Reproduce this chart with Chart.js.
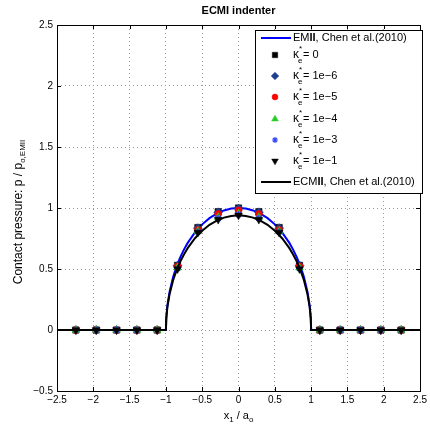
<!DOCTYPE html>
<html>
<head>
<meta charset="utf-8">
<script src="https://cdn.jsdelivr.net/npm/chart.js@4.4.1/dist/chart.umd.min.js"></script>
<style>
  html, body { margin: 0; padding: 0; background: #fff; }
  #wrap { width: 430px; height: 428px; }
</style>
</head>
<body>
<div id="wrap"><canvas id="contact-chart" width="430" height="428"></canvas></div>
<script>
// analytical curves
var curveX = [-2.5, -1, -0.995, -0.98, -0.95, -0.9, -0.85, -0.8, -0.75, -0.7, -0.6, -0.5, -0.4, -0.3, -0.2, -0.1, 0,
              0.1, 0.2, 0.3, 0.4, 0.5, 0.6, 0.7, 0.75, 0.8, 0.85, 0.9, 0.95, 0.98, 0.995, 1, 2.5];
var emiiY  = [0, 0, 0.100, 0.199, 0.312, 0.436, 0.527, 0.600, 0.661, 0.714, 0.800, 0.866, 0.917, 0.954, 0.980, 0.995, 1.000,
              0.995, 0.980, 0.954, 0.917, 0.866, 0.800, 0.714, 0.661, 0.600, 0.527, 0.436, 0.312, 0.199, 0.100, 0, 0];
var ecmiiY = [0, 0, 0.094, 0.187, 0.293, 0.410, 0.495, 0.564, 0.621, 0.671, 0.752, 0.814, 0.862, 0.897, 0.921, 0.935, 0.940,
              0.935, 0.921, 0.897, 0.862, 0.814, 0.752, 0.671, 0.621, 0.564, 0.495, 0.410, 0.293, 0.187, 0.094, 0, 0];

// simulation points
var pointX = [-2.24, -1.96, -1.68, -1.40, -1.12, -0.84, -0.56, -0.28, 0, 0.28, 0.56, 0.84, 1.12, 1.40, 1.68, 1.96, 2.24];
var kappa0   = [0, 0, 0, 0, 0, 0.530, 0.840, 0.970, 1.000, 0.970, 0.840, 0.530, 0, 0, 0, 0, 0];
var kappa1e6 = [0, 0, 0, 0, 0, 0.528, 0.835, 0.965, 0.995, 0.965, 0.835, 0.528, 0, 0, 0, 0, 0];
var kappa1e5 = [0, 0, 0, 0, 0, 0.520, 0.820, 0.950, 0.980, 0.950, 0.820, 0.520, 0, 0, 0, 0, 0];
var kappa1e4 = [0, 0, 0, 0, 0, 0.510, 0.810, 0.925, 0.955, 0.925, 0.810, 0.510, 0, 0, 0, 0, 0];
var kappa1e3 = [0, 0, 0, 0, 0, 0.505, 0.805, 0.915, 0.945, 0.915, 0.805, 0.505, 0, 0, 0, 0, 0];
var kappa1e1 = [0, 0, 0, 0, 0, 0.500, 0.800, 0.905, 0.940, 0.905, 0.800, 0.500, 0, 0, 0, 0, 0];
var kappaLabels = ['0', '1e\u22126', '1e\u22125', '1e\u22124', '1e\u22123', '1e\u22121'];

var FONT = '"Liberation Sans", Arial, Helvetica, sans-serif';

function toXY(xs, ys) {
	var out = [];
	for (var i = 0; i < xs.length; i++) out.push({x: xs[i], y: ys[i]});
	return out;
}

function markerSet(label, values, style, color, radius, rotation, order) {
	return {
		label: label,
		data: toXY(pointX, values),
		showLine: false,
		pointStyle: style,
		pointRadius: radius,
		pointRotation: rotation,
		pointBackgroundColor: color,
		pointBorderColor: color,
		pointBorderWidth: style == 'star' ? 1.2 : 0.5,
		order: order
	};
}

function fmtTick(v) {
	var s = String(Math.round(v * 10) / 10);
	return s.replace('-', '\u2212');
}

// draws title, axis titles, frame, inward ticks and the legend box
var decorations = {
	id: 'decorations',
	afterDraw: function(chart) {
		var ctx = chart.ctx;
		var a = chart.chartArea;
		var xs = chart.scales.x, ys = chart.scales.y;
		ctx.save();

		// frame
		ctx.strokeStyle = '#000';
		ctx.lineWidth = 1;
		ctx.strokeRect(Math.round(a.left) + 0.5, Math.round(a.top) + 0.5, Math.round(a.right - a.left), Math.round(a.bottom - a.top));

		// inward ticks
		ctx.beginPath();
		xs.ticks.forEach(function(t) {
			var px = Math.round(xs.getPixelForValue(t.value)) + 0.5;
			ctx.moveTo(px, a.bottom); ctx.lineTo(px, a.bottom - 4);
			ctx.moveTo(px, a.top); ctx.lineTo(px, a.top + 4);
		});
		ys.ticks.forEach(function(t) {
			var py = Math.round(ys.getPixelForValue(t.value)) + 0.5;
			ctx.moveTo(a.left, py); ctx.lineTo(a.left + 4, py);
			ctx.moveTo(a.right, py); ctx.lineTo(a.right - 4, py);
		});
		ctx.stroke();

		ctx.fillStyle = '#000';
		// title
		ctx.font = 'bold 11px ' + FONT;
		ctx.textAlign = 'center';
		ctx.textBaseline = 'middle';
		ctx.fillText('ECMI indenter', (a.left + a.right) / 2, 11);

		// x title: x1 / ao
		ctx.textAlign = 'left';
		ctx.textBaseline = 'alphabetic';
		var cx = (a.left + a.right) / 2, by = 419;
		ctx.font = '11px ' + FONT;
		var w1 = ctx.measureText('x').width, w3 = ctx.measureText(' / a').width;
		ctx.font = '8px ' + FONT;
		var w2 = ctx.measureText('1').width, w4 = ctx.measureText('o').width;
		var sx = cx - (w1 + w2 + w3 + w4) / 2;
		ctx.font = '11px ' + FONT;
		ctx.fillText('x', sx, by);
		ctx.font = '8px ' + FONT;
		ctx.fillText('1', sx + w1, by + 3);
		ctx.font = '11px ' + FONT;
		ctx.fillText(' / a', sx + w1 + w2, by);
		ctx.font = '8px ' + FONT;
		ctx.fillText('o', sx + w1 + w2 + w3, by + 3);

		// y title
		ctx.save();
		ctx.translate(22, 212);
		ctx.rotate(-Math.PI / 2);
		ctx.font = '12px ' + FONT;
		var m1 = ctx.measureText('Contact pressure: p / p').width;
		ctx.font = '8px ' + FONT;
		var m2 = ctx.measureText('o,EMII').width;
		var sy = -(m1 + m2) / 2;
		ctx.font = '12px ' + FONT;
		ctx.fillText('Contact pressure: p / p', sy, 0);
		ctx.font = '8px ' + FONT;
		ctx.fillText('o,EMII', sy + m1, 3);
		ctx.restore();

		// legend
		var lx = 255, ly = 30, lw = 167, lh = 163;
		ctx.fillStyle = '#fff';
		ctx.fillRect(lx, ly, lw, lh);
		ctx.strokeStyle = '#000';
		ctx.lineWidth = 1;
		ctx.strokeRect(lx + 0.5, ly + 0.5, lw, lh);

		var rows = [38, 55, 76, 97, 119, 140, 161, 182];
		var order = [0, 1, 2, 3, 4, 5, 6, 7];
		var ds = chart.data.datasets;
		order.forEach(function(di, r) {
			var d = ds[di];
			var y = rows[r];
			var tx = 293;
			if (d.showLine !== false) {
				ctx.strokeStyle = d.borderColor;
				ctx.lineWidth = 2;
				ctx.beginPath();
				ctx.moveTo(261, y); ctx.lineTo(291, y);
				ctx.stroke();
				ctx.fillStyle = '#000';
				ctx.textBaseline = 'middle';
				var name = d.label;
				ctx.font = '11px ' + FONT;
				var pre = name.slice(0, name.indexOf('II'));
				ctx.fillText(pre, tx, y);
				var wpre = ctx.measureText(pre).width;
				ctx.font = 'bold 11px ' + FONT;
				ctx.fillText('II', tx + wpre, y);
				var wii = ctx.measureText('II').width;
				ctx.font = '11px ' + FONT;
				ctx.fillText(name.slice(name.indexOf('II') + 2), tx + wpre + wii, y);
			} else {
				ctx.fillStyle = d.pointBackgroundColor;
				ctx.strokeStyle = d.pointBorderColor;
				ctx.lineWidth = d.pointBorderWidth;
				Chart.helpers.drawPoint(ctx, {
					pointStyle: d.pointStyle,
					radius: d.pointRadius * 0.85,
					rotation: d.pointRotation,
					borderWidth: d.pointBorderWidth
				}, 275, y);
				ctx.fillStyle = '#000';
				ctx.textBaseline = 'middle';
				ctx.font = '12px ' + FONT;
				ctx.fillText('\u03ba', tx, y);
				var wk = ctx.measureText('\u03ba').width;
				ctx.font = '8px ' + FONT;
				ctx.fillText('*', tx + wk, y - 6);
				ctx.fillText('e', tx + wk - 1, y + 6);
				ctx.font = '11px ' + FONT;
				ctx.fillText('= ' + kappaLabels[di - 1], tx + wk + 4, y);
			}
		});
		ctx.restore();
	}
};

var ctx = document.getElementById('contact-chart').getContext('2d');

var chart = new Chart(ctx, {
	type: 'scatter',
	data: {
		datasets: [
			{
				label: 'EMII, Chen et al.(2010)',
				data: toXY(curveX, emiiY),
				showLine: true,
				borderColor: '#0000ff',
				borderWidth: 2,
				pointRadius: 0,
				tension: 0,
				order: 9
			},
			markerSet('k0', kappa0, 'rect', '#000000', 4.5, 0, 8),
			markerSet('k1e6', kappa1e6, 'rectRot', '#1c3f8f', 4.5, 0, 7),
			markerSet('k1e5', kappa1e5, 'circle', '#ff0000', 3.5, 0, 6),
			markerSet('k1e4', kappa1e4, 'triangle', '#22cc22', 4.5, 0, 5),
			markerSet('k1e3', kappa1e3, 'star', '#3344ff', 3.5, 0, 4),
			markerSet('k1e1', kappa1e1, 'triangle', '#000000', 4.5, 180, 3),
			{
				label: 'ECMII, Chen et al.(2010)',
				data: toXY(curveX, ecmiiY),
				showLine: true,
				borderColor: '#000000',
				borderWidth: 2,
				pointRadius: 0,
				tension: 0,
				order: 1
			}
		]
	},
	options: {
		responsive: false,
		animation: false,
		layout: { padding: { left: 0, top: 25, right: 7, bottom: 0 } },
		plugins: {
			legend: { display: false },
			title: { display: false },
			tooltip: { enabled: false }
		},
		scales: {
			x: {
				type: 'linear',
				min: -2.5,
				max: 2.5,
				afterFit: function(s) { s.height = 37; },
				ticks: { stepSize: 0.5, color: '#000', font: { size: 10, family: FONT }, padding: 3, maxRotation: 0, callback: fmtTick },
				grid: { color: '#9a9a9a', lineWidth: 1, drawTicks: false },
				border: { display: false, dash: [1, 3] }
			},
			y: {
				type: 'linear',
				min: -0.5,
				max: 2.5,
				afterFit: function(s) { s.width = 57; },
				ticks: { stepSize: 0.5, color: '#000', font: { size: 10, family: FONT }, padding: 4, callback: fmtTick },
				grid: { color: '#9a9a9a', lineWidth: 1, drawTicks: false },
				border: { display: false, dash: [1, 3] }
			}
		}
	},
	plugins: [decorations]
});
</script>
</body>
</html>
